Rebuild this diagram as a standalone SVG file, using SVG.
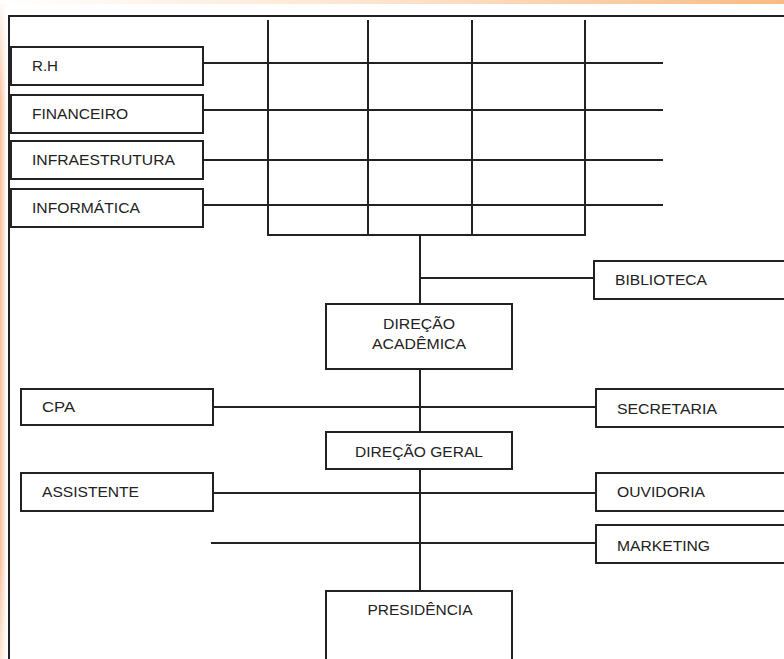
<svg xmlns="http://www.w3.org/2000/svg" width="784" height="659" viewBox="0 0 784 659">
  <defs>
    <linearGradient id="topBand" x1="0" y1="0" x2="1" y2="0">
      <stop offset="0" stop-color="#ffffff"/>
      <stop offset="0.5" stop-color="#fde3cc"/>
      <stop offset="1" stop-color="#f8bb85"/>
    </linearGradient>
    <linearGradient id="leftBand" x1="0" y1="0" x2="1" y2="0">
      <stop offset="0" stop-color="#f7c09a"/>
      <stop offset="1" stop-color="#fff6ef"/>
    </linearGradient>
    <linearGradient id="leftFade" x1="0" y1="0" x2="0" y2="1">
      <stop offset="0" stop-color="#ffffff" stop-opacity="0.9"/>
      <stop offset="0.15" stop-color="#ffffff" stop-opacity="0"/>
      <stop offset="0.85" stop-color="#ffffff" stop-opacity="0"/>
      <stop offset="1" stop-color="#ffffff" stop-opacity="0.6"/>
    </linearGradient>
  </defs>
  <style>
    .box { fill: #ffffff; stroke: #222222; stroke-width: 2; }
    .ln { fill: none; stroke: #222222; stroke-width: 2; }
    .lbl { font-family: "Liberation Sans", Arial, sans-serif; font-size: 14px; fill: #222222; }
    .mid { text-anchor: middle; }
  </style>
  <rect x="0" y="0" width="784" height="659" fill="#ffffff"/>
  <rect x="0" y="0" width="784" height="4" fill="url(#topBand)"/>
  <rect x="0" y="4" width="6" height="655" fill="url(#leftBand)"/>
  <rect x="0" y="4" width="6" height="655" fill="url(#leftFade)"/>

  <g id="frame">
    <line class="ln" x1="8" y1="16" x2="784" y2="16" stroke="#444444"/>
    <line class="ln" x1="9" y1="16" x2="9" y2="659" stroke="#444444"/>
  </g>

  <g id="connectors">
    <!-- grid -->
    <line class="ln" x1="268" y1="20" x2="268" y2="235"/>
    <line class="ln" x1="368" y1="20" x2="368" y2="235"/>
    <line class="ln" x1="472" y1="20" x2="472" y2="235"/>
    <line class="ln" x1="585" y1="20" x2="585" y2="235"/>
    <line class="ln" x1="267" y1="235" x2="586" y2="235"/>
    <line class="ln" x1="203" y1="63" x2="663" y2="63"/>
    <line class="ln" x1="203" y1="110" x2="663" y2="110"/>
    <line class="ln" x1="203" y1="160" x2="663" y2="160"/>
    <line class="ln" x1="203" y1="205" x2="663" y2="205"/>
    <!-- main spine -->
    <line class="ln" x1="420" y1="235" x2="420" y2="304"/>
    <line class="ln" x1="420" y1="369" x2="420" y2="432"/>
    <line class="ln" x1="420" y1="469" x2="420" y2="591"/>
    <!-- branches -->
    <line class="ln" x1="420" y1="278" x2="594" y2="278" stroke="#555555" stroke-width="2.5"/>
    <line class="ln" x1="213" y1="407" x2="596" y2="407"/>
    <line class="ln" x1="213" y1="493" x2="596" y2="493"/>
    <line class="ln" x1="211" y1="543" x2="596" y2="543"/>
  </g>

  <g id="rh">
    <rect class="box" x="11" y="47" width="192" height="38"/>
    <text class="lbl" x="32" y="71" textLength="26" lengthAdjust="spacingAndGlyphs">R.H</text>
  </g>
  <g id="financeiro">
    <rect class="box" x="11" y="95" width="192" height="38"/>
    <text class="lbl" x="32" y="119" textLength="96" lengthAdjust="spacingAndGlyphs">FINANCEIRO</text>
  </g>
  <g id="infraestrutura">
    <rect class="box" x="11" y="141" width="192" height="38"/>
    <text class="lbl" x="32" y="165" textLength="143" lengthAdjust="spacingAndGlyphs">INFRAESTRUTURA</text>
  </g>
  <g id="informatica">
    <rect class="box" x="11" y="189" width="192" height="38"/>
    <text class="lbl" x="32" y="213" textLength="108" lengthAdjust="spacingAndGlyphs">INFORMÁTICA</text>
  </g>

  <g id="biblioteca">
    <rect class="box" x="594" y="261" width="200" height="38"/>
    <text class="lbl" x="615" y="285" textLength="92" lengthAdjust="spacingAndGlyphs">BIBLIOTECA</text>
  </g>

  <g id="direcao-academica">
    <rect class="box" x="326" y="304" width="186" height="65"/>
    <text class="lbl mid" x="419" y="329" textLength="72" lengthAdjust="spacingAndGlyphs">DIREÇÃO</text>
    <text class="lbl mid" x="419" y="349" textLength="94" lengthAdjust="spacingAndGlyphs">ACADÊMICA</text>
  </g>

  <g id="cpa">
    <rect class="box" x="21" y="389" width="192" height="36"/>
    <text class="lbl" x="42" y="412" textLength="33" lengthAdjust="spacingAndGlyphs">CPA</text>
  </g>
  <g id="secretaria">
    <rect class="box" x="596" y="389" width="198" height="38"/>
    <text class="lbl" x="617" y="414" textLength="100" lengthAdjust="spacingAndGlyphs">SECRETARIA</text>
  </g>

  <g id="direcao-geral">
    <rect class="box" x="326" y="432" width="186" height="37"/>
    <text class="lbl mid" x="419" y="457" textLength="128" lengthAdjust="spacingAndGlyphs">DIREÇÃO GERAL</text>
  </g>

  <g id="assistente">
    <rect class="box" x="21" y="473" width="192" height="38"/>
    <text class="lbl" x="42" y="497" textLength="97" lengthAdjust="spacingAndGlyphs">ASSISTENTE</text>
  </g>
  <g id="ouvidoria">
    <rect class="box" x="596" y="473" width="198" height="38"/>
    <text class="lbl" x="617" y="497" textLength="88" lengthAdjust="spacingAndGlyphs">OUVIDORIA</text>
  </g>
  <g id="marketing">
    <rect class="box" x="596" y="525" width="198" height="38"/>
    <text class="lbl" x="617" y="551" textLength="93" lengthAdjust="spacingAndGlyphs">MARKETING</text>
  </g>

  <g id="presidencia">
    <rect class="box" x="326" y="591" width="186" height="75"/>
    <text class="lbl mid" x="420" y="615" textLength="105" lengthAdjust="spacingAndGlyphs">PRESIDÊNCIA</text>
  </g>
</svg>
